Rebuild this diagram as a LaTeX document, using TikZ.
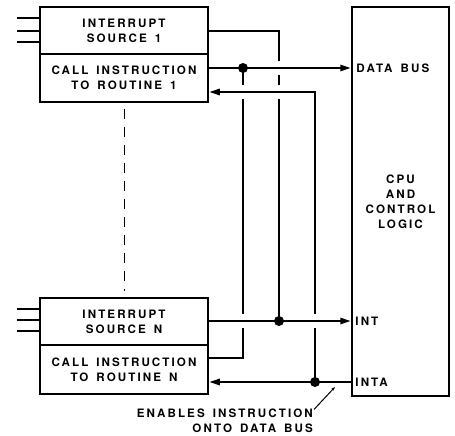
\documentclass[tikz,border=0pt]{standalone}
\usepackage{fontspec}
\newfontfamily\lblfont{TeX Gyre Heros}[LetterSpace=18,WordSpace=1.5,BoldFont={* Bold}]
\newcommand\dlbl{\lblfont\bfseries\fontsize{11.6bp}{15bp}\selectfont}
\usetikzlibrary{arrows.meta,calc}
\begin{document}
\begin{tikzpicture}[x=1bp,y=-1bp,
  box/.style={draw,line width=1.5bp,minimum width=168bp,inner sep=0pt,align=center,font=\dlbl},
  wire/.style={line width=2.5bp},
  arr/.style={wire,-{Triangle[length=11bp,width=6bp]}},
  dot/.style={circle,fill,inner sep=0pt,minimum size=10bp},
  lbl/.style={font=\dlbl,inner sep=0pt},
  inp/.style={line width=2.8bp}]
\useasboundingbox (0,0) rectangle (455,436);

% boxes
\node[box,minimum height=47bp] (src1) at (124,30.5) {INTERRUPT\\SOURCE 1};
\node[box,minimum height=48bp] (call1) at (124,78) {CALL INSTRUCTION\\TO ROUTINE 1};
\node[box,minimum height=47bp] (srcN) at (124,321.5) {INTERRUPT\\SOURCE N};
\node[box,minimum height=49bp] (callN) at (124,369.5) {CALL INSTRUCTION\\TO ROUTINE N};
\node[draw,line width=1.5bp,minimum width=97bp,minimum height=389bp,inner sep=0pt,align=center,font=\dlbl] (cpu) at (400.5,201.5) {CPU\\AND\\CONTROL\\LOGIC};

% junctions
\coordinate (j1) at (243,68);
\coordinate (j2) at (279,321);
\coordinate (j3) at (315,382);

% inputs
\foreach \y in {18,31,42} \draw[inp] (17,\y) -- (src1.west |- 0,\y);
\foreach \y in {309,320,331} \draw[inp] (17,\y) -- (srcN.west |- 0,\y);

% dashed continuation
\draw[line width=1bp,dash pattern=on 10bp off 8bp,shorten <=6bp,shorten >=6bp] (call1.south) -- (srcN.north);

% source 1 -> INT
\draw[wire] (src1.east |- 0,31) -- (279,31) -- (279,61) (279,75) -- (279,85) (279,99) -- (j2);
% call 1 -> data bus
\draw[arr] (call1.east |- j1) -- (cpu.west |- j1);
% branch to call N
\draw[wire] (j1) -- (243,85) (243,99) -- (243,314) (243,328) -- (243,358) -- (callN.east |- 0,358);
% return path from INTA to call 1
\draw[wire] (j3) -- (315,328);
\draw[arr] (315,314) -- (315,92) -- (call1.east |- 0,92);
% source N -> INT
\draw[arr] (srcN.east |- j2) -- (cpu.west |- j2);
% INTA
\draw[arr] (cpu.west |- j3) -- (callN.east |- j3);

\node[dot] (d1) at (j1) {};
\node[dot] (d2) at (j2) {};
\node[dot] (d3) at (j3) {};

% labels
\node[lbl,anchor=west] (db) at ([xshift=5bp]cpu.west |- j1) {DATA BUS};
\node[lbl,anchor=west] (int) at ([xshift=4bp]cpu.west |- j2) {INT};
\node[lbl,anchor=west] (inta) at ([xshift=4bp]cpu.west |- j3) {INTA};
\node[lbl,align=right,anchor=east] (note) at (313,420.5) {ENABLES INSTRUCTION\\ONTO DATA BUS};
\coordinate (pt) at (335,387);
\draw[line width=1bp,-{Stealth[length=4bp,width=3bp]}] ([shift={(1,1)}]note.north east) -- (pt);
\end{tikzpicture}
\end{document}
